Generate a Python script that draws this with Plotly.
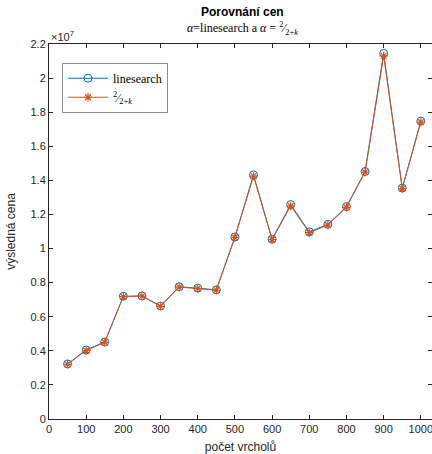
import plotly.graph_objects as go

vertices = [50, 100, 150, 200, 250, 300, 350, 400, 450, 500,
            550, 600, 650, 700, 750, 800, 850, 900, 950, 1000]
cost_linesearch = [0.323e7, 0.405e7, 0.452e7, 0.720e7, 0.722e7, 0.663e7, 0.776e7, 0.768e7, 0.758e7, 1.068e7,
                   1.432e7, 1.055e7, 1.258e7, 1.098e7, 1.142e7, 1.246e7, 1.452e7, 2.145e7, 1.355e7, 1.748e7]
cost_fixed = [0.321e7, 0.402e7, 0.450e7, 0.718e7, 0.721e7, 0.661e7, 0.774e7, 0.766e7, 0.756e7, 1.065e7,
              1.425e7, 1.052e7, 1.250e7, 1.093e7, 1.138e7, 1.242e7, 1.448e7, 2.130e7, 1.352e7, 1.742e7]
y_ticks = [0, 0.2e7, 0.4e7, 0.6e7, 0.8e7, 1.0e7, 1.2e7, 1.4e7, 1.6e7, 1.8e7, 2.0e7, 2.2e7]
y_tick_text = ["0", "0.2", "0.4", "0.6", "0.8", "1", "1.2", "1.4", "1.6", "1.8", "2", "2.2"]
x_ticks = [0, 100, 200, 300, 400, 500, 600, 700, 800, 900, 1000]

BLUE = "#0072BD"
ORANGE = "#D95319"
AX = "#262626"
FONT = "Liberation Sans, Arial, sans-serif"
SERIF = "Liberation Serif, Times New Roman, serif"

fig = go.Figure()
fig.add_trace(go.Scatter(
    x=vertices, y=cost_linesearch, mode="lines+markers", name="linesearch",
    line=dict(color=BLUE, width=1),
    marker=dict(symbol="circle-open", size=8, color=BLUE, line=dict(width=1, color=BLUE)),
))
fig.add_trace(go.Scatter(
    x=vertices, y=cost_fixed, mode="lines+markers",
    name="<sup>2</sup>⁄<sub>2+<i>k</i></sub>",
    line=dict(color=ORANGE, width=1),
    marker=dict(symbol="asterisk-open", size=7, color=ORANGE, line=dict(width=1.2, color=ORANGE)),
))

fig.update_layout(
    width=432, height=454,
    margin=dict(l=49, r=0, t=44, b=35, autoexpand=False),
    paper_bgcolor="white", plot_bgcolor="white",
    font=dict(family=FONT, size=11, color=AX),
    showlegend=True,
    legend=dict(
        x=0.034, y=0.95, xanchor="left", yanchor="top",
        bgcolor="white", bordercolor="#8c8c8c", borderwidth=1,
        font=dict(family=SERIF, size=12, color="black"),
        tracegroupgap=0, itemwidth=40,
    ),
    xaxis=dict(
        range=[0, 1030], tickvals=x_ticks, ticks="inside", ticklen=4,
        tickcolor=AX, showline=True, linecolor=AX, linewidth=1, mirror="ticks",
        showgrid=False, zeroline=False, automargin=False, ticklabeloverflow="allow",
        tickfont=dict(family=FONT, size=11, color=AX),
        title=dict(text="počet vrcholů", font=dict(family=FONT, size=12, color=AX), standoff=8),
    ),
    yaxis=dict(
        range=[0, 2.2e7], tickvals=y_ticks, ticktext=y_tick_text, ticks="inside", ticklen=4,
        tickcolor=AX, showline=True, linecolor=AX, linewidth=1, mirror="ticks",
        showgrid=False, zeroline=False, automargin=False,
        tickfont=dict(family=FONT, size=11, color=AX),
        title=dict(text="výsledná cena", font=dict(family=FONT, size=12, color=AX), standoff=12),
    ),
    annotations=[
        dict(text="<b>Porovnání cen</b>", xref="paper", yref="paper", x=0.505, y=1.0, yshift=32,
             xanchor="center", yanchor="middle", showarrow=False,
             font=dict(family=FONT, size=12, color="black")),
        dict(text="<i>α</i>=linesearch a <i>α</i> = <sup>2</sup>⁄<sub>2+<i>k</i></sub>",
             xref="paper", yref="paper", x=0.505, y=1.0, yshift=16,
             xanchor="center", yanchor="middle", showarrow=False,
             font=dict(family=SERIF, size=12, color="black")),
        dict(text="×10<sup>7</sup>", xref="paper", yref="paper", x=0.0, y=1.0, yshift=8,
             xanchor="left", yanchor="middle", showarrow=False,
             font=dict(family=FONT, size=11, color=AX)),
    ],
)

fig.write_html("out.html", config={"displayModeBar": False},
               post_script="document.body.style.margin='0';document.body.style.overflow='hidden';")
